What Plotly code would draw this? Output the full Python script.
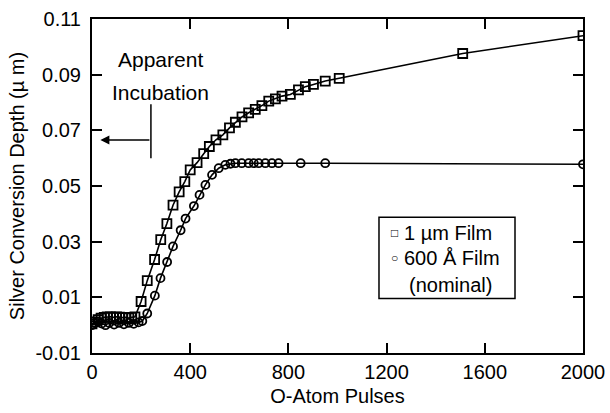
import plotly.graph_objects as go

# ---- data ----
sq_x = [0, 12, 25, 37, 50, 62, 75, 87, 100, 112, 125, 137, 150, 162, 175,
        200, 225, 255, 280, 305, 330, 355, 378, 400, 428, 455, 478, 505, 533,
        560, 584, 611, 638, 665, 692, 720, 747, 774, 808, 841, 869, 902, 950,
        1007, 1510, 2000]
sq_y = [0.0005, 0.0012, 0.002, 0.0025, 0.0028, 0.003, 0.003, 0.0028, 0.003,
        0.0029, 0.0027, 0.0028, 0.0026, 0.0028, 0.003,
        0.0085, 0.016, 0.0236, 0.0307, 0.0365, 0.0431, 0.0479, 0.0516, 0.0558,
        0.0584, 0.0616, 0.0642, 0.0666, 0.0684, 0.0709, 0.0729, 0.0748, 0.0763,
        0.0775, 0.0789, 0.0805, 0.0813, 0.0823, 0.0829, 0.0845, 0.0857, 0.0865,
        0.0877, 0.0887, 0.0976, 0.104]

ci_x = [0, 10, 25, 40, 55, 70, 90, 110, 130, 150, 170, 190, 205, 225, 256,
        279, 306, 330, 361, 381, 415, 438, 462, 489, 516, 543, 564, 584, 610,
        638, 659, 679, 706, 733, 760, 850, 950, 2000]
ci_y = [0.0, 0.0008, 0.0012, 0.0006, 0.0, 0.0008, 0.0002, 0.0008, 0.0003,
        0.0008, 0.0005, 0.001, 0.0015, 0.0042, 0.0106, 0.0169, 0.0227, 0.0283,
        0.0341, 0.0383, 0.0428, 0.0468, 0.0504, 0.054, 0.0564, 0.0576, 0.058,
        0.0582, 0.0582, 0.0582, 0.0582, 0.0582, 0.0582, 0.0582, 0.0582, 0.0582,
        0.0582, 0.0578]

x_ticks = [0, 400, 800, 1200, 1600, 2000]
x_ticktext = ["0", "400", "800", "1200", "1600", "2000"]
y_ticks = [-0.01, 0.01, 0.03, 0.05, 0.07, 0.09, 0.11]
y_ticktext = ["-0.01", "0.01", "0.03", "0.05", "0.07", "0.09", "0.11"]

series_names = ["1 \u00b5m Film", "600 \u00c5 Film (nominal)"]

FONT = "Arial, Liberation Sans, Helvetica, sans-serif"

fig = go.Figure()
fig.add_trace(go.Scatter(
    x=sq_x, y=sq_y, mode="lines+markers", name=series_names[0],
    line=dict(color="black", width=1.6),
    marker=dict(symbol="square-open", size=9, color="black",
                line=dict(color="black", width=1.8)),
    showlegend=False))
fig.add_trace(go.Scatter(
    x=ci_x, y=ci_y, mode="lines+markers", name=series_names[1],
    line=dict(color="black", width=1.6),
    marker=dict(symbol="circle-open", size=8, color="black",
                line=dict(color="black", width=1.8)),
    showlegend=False))

fig.update_layout(
    template="none",
    width=610, height=413,
    margin=dict(l=92, r=27, t=19, b=60, autoexpand=False),
    paper_bgcolor="white", plot_bgcolor="white",
    font=dict(family=FONT, size=20, color="black"),
)
fig.update_xaxes(
    range=[0, 2000], tickvals=x_ticks, ticktext=x_ticktext,
    ticks="inside", ticklen=10, tickwidth=1.5, tickcolor="black",
    showline=True, linewidth=2, linecolor="black", mirror="ticks",
    showgrid=False, zeroline=False, automargin=False,
    tickfont=dict(size=20),
    title=dict(text="O-Atom Pulses", font=dict(size=20), standoff=7),
)
fig.update_yaxes(
    range=[-0.01, 0.11], tickvals=y_ticks, ticktext=y_ticktext,
    ticks="inside", ticklen=10, tickwidth=1.5, tickcolor="black",
    showline=True, linewidth=2, linecolor="black", mirror="ticks",
    showgrid=False, zeroline=False, automargin=False,
    tickfont=dict(size=20), ticklabelstandoff=5,
    title=dict(text="Silver Conversion Depth (\u00b5 m)", font=dict(size=20), standoff=5),
)

# "Apparent Incubation" label with bracket and arrow
fig.add_annotation(x=278, y=0.0953, xref="x", yref="y", text="Apparent",
                   showarrow=False, font=dict(size=21))
fig.add_annotation(x=278, y=0.0837, xref="x", yref="y", text="Incubation",
                   showarrow=False, font=dict(size=21))
fig.add_shape(type="line", xref="x", yref="y", x0=240, x1=240, y0=0.0794, y1=0.060,
              line=dict(color="black", width=1.5))
fig.add_annotation(x=34, y=0.0665, ax=240, ay=0.0665, xref="x", yref="y",
                   axref="x", ayref="y", text="", showarrow=True,
                   arrowhead=2, arrowsize=1.2, arrowwidth=1.5, arrowcolor="black")

# legend box
fig.add_shape(type="rect", xref="x", yref="y", x0=1169, x1=1723, y0=0.0096, y1=0.0388,
              line=dict(color="black", width=1.5), fillcolor="white")
fig.add_annotation(x=1231, y=0.033, xref="x", yref="y", text="\u25a1",
                   showarrow=False, font=dict(size=12))
fig.add_annotation(x=1231, y=0.0242, xref="x", yref="y", text="\u25cb",
                   showarrow=False, font=dict(size=12))
fig.add_annotation(x=1262, y=0.033, xref="x", yref="y", xanchor="left",
                   text=series_names[0], showarrow=False, font=dict(size=20))
fig.add_annotation(x=1262, y=0.0242, xref="x", yref="y", xanchor="left",
                   text="600 \u00c5 Film", showarrow=False, font=dict(size=20))
fig.add_annotation(x=1460, y=0.0145, xref="x", yref="y",
                   text="(nominal)", showarrow=False, font=dict(size=20))

# remove the default 8px page margin so the figure sits at the window origin
fig.write_html("out.html", config={"displayModeBar": False},
               post_script="document.body.style.margin='0';")
